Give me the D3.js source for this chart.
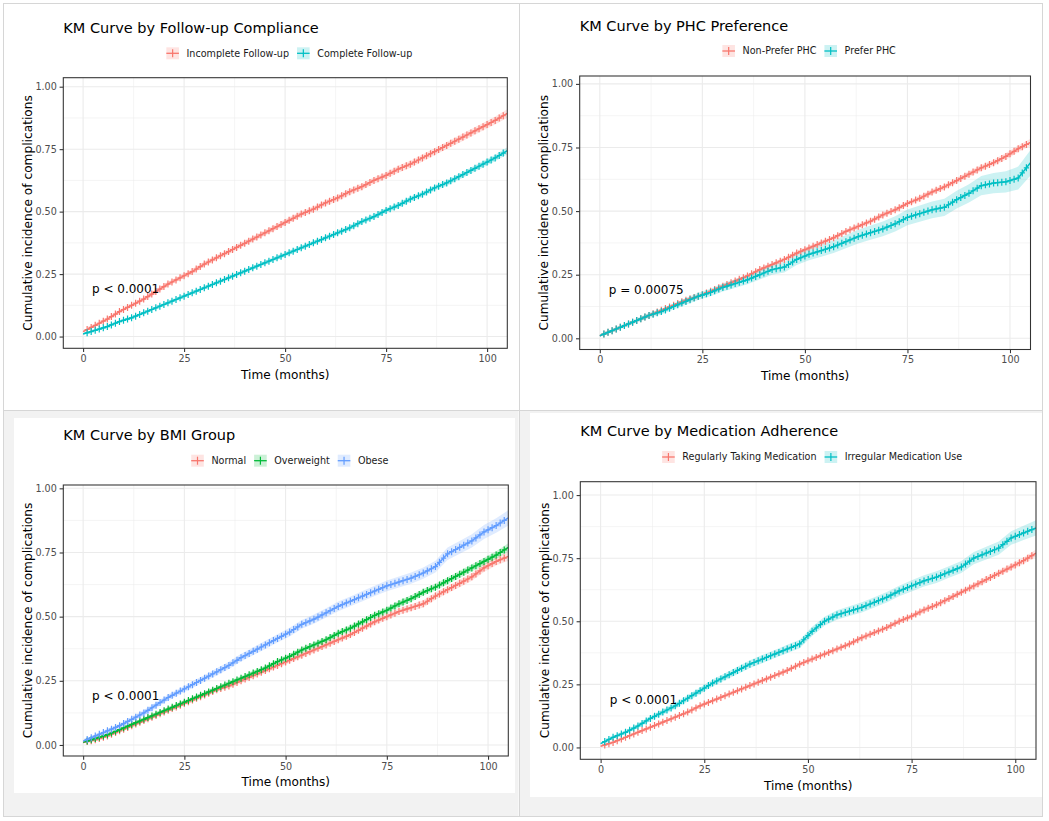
<!DOCTYPE html>
<html><head><meta charset="utf-8">
<script src="https://cdn.jsdelivr.net/npm/d3@7/dist/d3.min.js"></script>
<style>
body{margin:0;background:#fff;}
svg{display:block;font-family:"DejaVu Sans",sans-serif;}
</style>
</head><body>
<svg id="c" width="1049" height="821"></svg>
<script>
// ---------------- data ----------------
const months = [0,3,6,9,12,15,18,21,24,27,30,33,36,39,42,45,48,51,54,57,60,63,66,69,72,75,78,81,84,87,90,93,96,99,102,105];
const xTicks = [0,25,50,75,100];
const xMinorTicks = [12.5,37.5,62.5,87.5];
const yTicks = [0,0.25,0.5,0.75,1];
const yTickLabels = ["0.00","0.25","0.50","0.75","1.00"];
const yMinorTicks = [0.125,0.375,0.625,0.875];

const panelTitles = ["KM Curve by Follow-up Compliance","KM Curve by PHC Preference","KM Curve by BMI Group","KM Curve by Medication Adherence"];
const pValues = ["p < 0.0001","p = 0.00075","p < 0.0001","p < 0.0001"];

// panel 1
const followNames = ["Incomplete Follow-up","Complete Follow-up"];
const followIncomplete = [0.02,0.045,0.07,0.10,0.125,0.15,0.18,0.21,0.235,0.26,0.29,0.315,0.34,0.365,0.39,0.415,0.44,0.465,0.49,0.51,0.535,0.555,0.58,0.60,0.625,0.645,0.67,0.69,0.715,0.74,0.765,0.79,0.815,0.84,0.865,0.893];
const followComplete = [0.01,0.025,0.04,0.06,0.075,0.095,0.115,0.135,0.155,0.175,0.195,0.215,0.235,0.255,0.275,0.295,0.315,0.335,0.355,0.375,0.395,0.415,0.435,0.46,0.48,0.505,0.525,0.55,0.57,0.595,0.615,0.64,0.665,0.69,0.715,0.744];
const followIncompleteCI = [0.004,0.006,0.007,0.007,0.008,0.008,0.009,0.009,0.009,0.010,0.010,0.010,0.011,0.011,0.011,0.011,0.012,0.012,0.012,0.012,0.012,0.013,0.013,0.013,0.013,0.013,0.014,0.014,0.014,0.014,0.014,0.015,0.015,0.015,0.016,0.017];
const followCompleteCI = [0.003,0.004,0.005,0.005,0.006,0.006,0.006,0.007,0.007,0.007,0.007,0.008,0.008,0.008,0.008,0.008,0.009,0.009,0.009,0.009,0.009,0.010,0.010,0.010,0.010,0.010,0.011,0.011,0.011,0.011,0.012,0.012,0.012,0.013,0.013,0.014];

// panel 2
const phcNames = ["Non-Prefer PHC","Prefer PHC"];
const phcNonPrefer = [0.01,0.03,0.05,0.07,0.09,0.11,0.13,0.15,0.165,0.185,0.205,0.225,0.245,0.27,0.29,0.31,0.335,0.355,0.375,0.395,0.42,0.44,0.46,0.485,0.505,0.53,0.55,0.575,0.595,0.62,0.645,0.67,0.69,0.715,0.745,0.77];
const phcPrefer = [0.01,0.03,0.05,0.07,0.09,0.105,0.125,0.145,0.165,0.18,0.20,0.215,0.23,0.25,0.27,0.28,0.31,0.33,0.345,0.36,0.38,0.40,0.415,0.43,0.45,0.475,0.49,0.505,0.515,0.545,0.57,0.60,0.61,0.615,0.63,0.69];
const phcNonPreferCI = [0.003,0.004,0.005,0.005,0.006,0.006,0.006,0.007,0.007,0.007,0.007,0.008,0.008,0.008,0.008,0.008,0.009,0.009,0.009,0.009,0.009,0.010,0.010,0.010,0.010,0.010,0.011,0.011,0.011,0.011,0.012,0.012,0.012,0.013,0.013,0.014];
const phcPreferCI = [0.004,0.007,0.008,0.009,0.010,0.011,0.012,0.013,0.014,0.015,0.016,0.017,0.018,0.019,0.020,0.021,0.022,0.023,0.024,0.025,0.026,0.027,0.028,0.029,0.030,0.031,0.032,0.033,0.034,0.035,0.036,0.038,0.040,0.042,0.045,0.050];

// panel 3
const bmiNames = ["Normal","Overweight","Obese"];
const bmiNormal = [0.01,0.02,0.035,0.055,0.075,0.095,0.115,0.135,0.155,0.175,0.195,0.215,0.23,0.25,0.27,0.29,0.31,0.33,0.35,0.37,0.39,0.41,0.43,0.455,0.48,0.50,0.52,0.535,0.55,0.58,0.605,0.63,0.655,0.69,0.715,0.735];
const bmiOverweight = [0.01,0.025,0.04,0.06,0.08,0.10,0.12,0.14,0.16,0.18,0.20,0.22,0.24,0.26,0.28,0.30,0.325,0.345,0.37,0.39,0.41,0.435,0.455,0.48,0.505,0.525,0.55,0.57,0.595,0.615,0.64,0.665,0.69,0.715,0.74,0.77];
const bmiObese = [0.015,0.035,0.055,0.075,0.10,0.125,0.155,0.185,0.21,0.235,0.26,0.285,0.31,0.34,0.365,0.39,0.415,0.44,0.47,0.49,0.515,0.54,0.56,0.58,0.60,0.62,0.635,0.65,0.67,0.695,0.745,0.77,0.795,0.83,0.855,0.885];
const bmiNormalCI = [0.003,0.005,0.006,0.006,0.007,0.007,0.008,0.008,0.008,0.009,0.009,0.009,0.010,0.010,0.010,0.010,0.011,0.011,0.011,0.011,0.012,0.012,0.012,0.012,0.013,0.013,0.013,0.013,0.014,0.014,0.014,0.015,0.015,0.016,0.016,0.017];
const bmiOverweightCI = [0.003,0.005,0.006,0.006,0.007,0.007,0.007,0.008,0.008,0.008,0.009,0.009,0.009,0.009,0.010,0.010,0.010,0.010,0.011,0.011,0.011,0.011,0.012,0.012,0.012,0.012,0.013,0.013,0.013,0.013,0.014,0.014,0.014,0.015,0.015,0.016];
const bmiObeseCI = [0.004,0.007,0.008,0.009,0.010,0.011,0.011,0.012,0.012,0.013,0.013,0.014,0.014,0.015,0.015,0.016,0.016,0.017,0.017,0.018,0.018,0.019,0.019,0.020,0.020,0.021,0.021,0.022,0.022,0.023,0.024,0.025,0.026,0.027,0.028,0.030];

// panel 4
const medNames = ["Regularly Taking Medication","Irregular Medication Use"];
const medRegular = [0.005,0.02,0.04,0.06,0.08,0.10,0.12,0.14,0.165,0.185,0.205,0.225,0.245,0.265,0.285,0.305,0.33,0.35,0.37,0.39,0.41,0.435,0.455,0.475,0.50,0.52,0.545,0.565,0.59,0.615,0.64,0.665,0.69,0.715,0.74,0.77];
const medIrregular = [0.015,0.04,0.06,0.085,0.115,0.14,0.165,0.195,0.225,0.255,0.28,0.305,0.33,0.35,0.37,0.39,0.41,0.46,0.50,0.525,0.54,0.555,0.575,0.595,0.62,0.64,0.66,0.675,0.695,0.715,0.75,0.77,0.79,0.83,0.85,0.87];
const medRegularCI = [0.003,0.004,0.005,0.005,0.006,0.006,0.006,0.007,0.007,0.007,0.007,0.008,0.008,0.008,0.008,0.008,0.009,0.009,0.009,0.009,0.009,0.010,0.010,0.010,0.010,0.010,0.011,0.011,0.011,0.011,0.012,0.012,0.012,0.013,0.013,0.014];
const medIrregularCI = [0.004,0.007,0.008,0.009,0.010,0.011,0.012,0.013,0.013,0.014,0.014,0.015,0.015,0.016,0.016,0.017,0.017,0.018,0.018,0.019,0.019,0.020,0.020,0.021,0.021,0.022,0.022,0.023,0.023,0.024,0.024,0.025,0.026,0.027,0.028,0.030];

const RED="#F8766D", TEAL="#00BFC4", GREEN="#00BA38", BLUE="#619CFF";

// ---------------- layout (styles/positions) ----------------
const panels = [
  {title:panelTitles[0], p:pValues[0], names:followNames, vals:[followIncomplete,followComplete], ci:[followIncompleteCI,followCompleteCI], cols:[RED,TEAL],
   L:63.3, R:507.3, T:77.7, B:348.3, yDom:[-0.047,1.036], titleX:63.3, titleY:33, legY:53.3},
  {title:panelTitles[1], p:pValues[1], names:phcNames, vals:[phcNonPrefer,phcPrefer], ci:[phcNonPreferCI,phcPreferCI], cols:[RED,TEAL],
   L:579.7, R:1030.5, T:76, B:349.5, yDom:[-0.044,1.031], titleX:579.7, titleY:31, legY:51},
  {title:panelTitles[2], p:pValues[2], names:bmiNames, vals:[bmiNormal,bmiOverweight,bmiObese], ci:[bmiNormalCI,bmiOverweightCI,bmiObeseCI], cols:[RED,GREEN,BLUE],
   L:63.3, R:508.3, T:485, B:756, yDom:[-0.043,1.013], titleX:63.3, titleY:440, legY:460.7},
  {title:panelTitles[3], p:pValues[3], names:medNames, vals:[medRegular,medIrregular], ci:[medRegularCI,medIrregularCI], cols:[RED,TEAL],
   L:580.3, R:1036, T:481.7, B:759.3, yDom:[-0.047,1.053], titleX:580.3, titleY:436, legY:457}
];

const svg = d3.select("#c");

// background frame
svg.append("rect").attr("x",0).attr("y",0).attr("width",1049).attr("height",821).attr("fill","#ffffff");
svg.append("rect").attr("x",3.5).attr("y",410.5).attr("width",515).attr("height",406).attr("fill","#f2f2f2");
svg.append("rect").attr("x",519.5).attr("y",410.5).attr("width",523).attr("height",406).attr("fill","#f2f2f2");
svg.append("rect").attr("x",14).attr("y",418).attr("width",501).attr("height",375).attr("fill","#ffffff");
svg.append("rect").attr("x",530).attr("y",413).attr("width",512).attr("height",384).attr("fill","#ffffff");
svg.append("rect").attr("x",3.5).attr("y",3.5).attr("width",1039).attr("height",813).attr("fill","none").attr("stroke","#d6d6d6").attr("stroke-width",1);
svg.append("line").attr("x1",519.5).attr("x2",519.5).attr("y1",3.5).attr("y2",816.5).attr("stroke","#d6d6d6");
svg.append("line").attr("x1",3.5).attr("x2",1042.5).attr("y1",410.5).attr("y2",410.5).attr("stroke","#d6d6d6");

panels.forEach((pn,pi)=>{
  const g = svg.append("g");
  const x = d3.scaleLinear().domain([-4.9,105]).range([pn.L,pn.R]);
  const y = d3.scaleLinear().domain(pn.yDom).range([pn.B,pn.T]);

  // grid
  const grid = g.append("g");
  xMinorTicks.forEach(t=>grid.append("line").attr("x1",x(t)).attr("x2",x(t)).attr("y1",pn.T).attr("y2",pn.B).attr("stroke","#ebebeb").attr("stroke-width",0.55));
  yMinorTicks.forEach(t=>grid.append("line").attr("y1",y(t)).attr("y2",y(t)).attr("x1",pn.L).attr("x2",pn.R).attr("stroke","#ebebeb").attr("stroke-width",0.55));
  xTicks.forEach(t=>grid.append("line").attr("x1",x(t)).attr("x2",x(t)).attr("y1",pn.T).attr("y2",pn.B).attr("stroke","#ebebeb").attr("stroke-width",1.07));
  yTicks.forEach(t=>grid.append("line").attr("y1",y(t)).attr("y2",y(t)).attr("x1",pn.L).attr("x2",pn.R).attr("stroke","#ebebeb").attr("stroke-width",1.07));

  // clip
  const cid = "clip"+pi;
  svg.append("clipPath").attr("id",cid).append("rect").attr("x",pn.L).attr("y",pn.T).attr("width",pn.R-pn.L).attr("height",pn.B-pn.T);
  const plot = g.append("g").attr("clip-path",`url(#${cid})`);

  const area = d3.area().x(d=>x(d.t)).y0(d=>y(d.v-d.c)).y1(d=>y(d.v+d.c));
  const line = d3.line().x(d=>x(d.t)).y(d=>y(d.v));

  const series = pn.vals.map((vals,si)=>months.map((t,i)=>({t, v:vals[i], c:pn.ci[si][i]})));
  series.forEach((s,si)=>{
    plot.append("path").attr("d",area(s)).attr("fill",pn.cols[si]).attr("fill-opacity",0.2).attr("stroke","none");
  });
  series.forEach((s,si)=>{
    const path = plot.append("path").attr("d",line(s)).attr("fill","none").attr("stroke",pn.cols[si]).attr("stroke-width",1.5);
    // censor "+" symbols placed along the drawn curve, one per month
    const node = path.node(), len = node.getTotalLength();
    const marks = plot.append("g").attr("stroke",pn.cols[si]).attr("stroke-width",1.2);
    for(let m=1;m<=104;m++){
      const target = x(m);
      let lo=0, hi=len;
      for(let k=0;k<30;k++){ const mid=(lo+hi)/2; if(node.getPointAtLength(mid).x<target) lo=mid; else hi=mid; }
      const pt = node.getPointAtLength((lo+hi)/2);
      marks.append("line").attr("x1",pt.x).attr("x2",pt.x).attr("y1",pt.y-3.5).attr("y2",pt.y+3.5);
      marks.append("line").attr("x1",pt.x-2.6).attr("x2",pt.x+2.6).attr("y1",pt.y).attr("y2",pt.y);
    }
  });

  // panel border
  g.append("rect").attr("x",pn.L).attr("y",pn.T).attr("width",pn.R-pn.L).attr("height",pn.B-pn.T).attr("fill","none").attr("stroke","#333333").attr("stroke-width",1.07);

  // axes
  const xAxis = d3.axisBottom(x).tickValues(xTicks).tickSize(3.7).tickPadding(3).tickFormat(d3.format("d"));
  const xa = g.append("g").attr("transform",`translate(0,${pn.B})`).call(xAxis);
  xa.select(".domain").remove();
  xa.selectAll("line").attr("stroke","#333333").attr("stroke-width",1.07);
  xa.selectAll("text").attr("fill","#4d4d4d").attr("font-size",9.6).attr("font-family","DejaVu Sans");

  const yAxis = d3.axisLeft(y).tickValues(yTicks).tickSize(3.7).tickPadding(2.8).tickFormat((d,i)=>yTickLabels[i]);
  const ya = g.append("g").attr("transform",`translate(${pn.L},0)`).call(yAxis);
  ya.select(".domain").remove();
  ya.selectAll("line").attr("stroke","#333333").attr("stroke-width",1.07);
  ya.selectAll("text").attr("fill","#4d4d4d").attr("font-size",9.6).attr("font-family","DejaVu Sans");

  // axis titles
  g.append("text").attr("x",(pn.L+pn.R)/2).attr("y",pn.B+30.2).attr("text-anchor","middle").attr("font-size",12.1).attr("fill","#000").text("Time (months)");
  g.append("text").attr("transform",`translate(${pn.L-31.8},${(pn.T+pn.B)/2}) rotate(-90)`).attr("text-anchor","middle").attr("font-size",12.2).attr("fill","#000").text("Cumulative incidence of complications");

  // p value
  g.append("text").attr("x",x(2.2)).attr("y",y(0.19)).attr("dy","0.35em").attr("font-size",12).attr("fill","#000").text(pn.p);

  // title
  g.append("text").attr("x",pn.titleX).attr("y",pn.titleY).attr("font-size",14.5).attr("fill","#000").text(pn.title);

  // legend
  const leg = g.append("g");
  const keyW = 12.6, keyH = 12, gapKT = 7.6, gapItems = 8;
  const items = pn.names.map((nm,si)=>{
    const tx = leg.append("text").attr("font-size",9.6).attr("fill","#1a1a1a").attr("dy","0.35em").text(nm);
    return {tx, w: tx.node().getComputedTextLength(), col: pn.cols[si]};
  });
  const total = d3.sum(items,d=>keyW+gapKT+d.w) + gapItems*(items.length-1);
  let cx = (pn.L+pn.R)/2 + 4 - total/2;
  items.forEach(it=>{
    leg.append("rect").attr("x",cx).attr("y",pn.legY-keyH/2).attr("width",keyW).attr("height",keyH).attr("fill",it.col).attr("fill-opacity",0.2);
    leg.append("line").attr("x1",cx).attr("x2",cx+keyW).attr("y1",pn.legY).attr("y2",pn.legY).attr("stroke",it.col).attr("stroke-width",1.3);
    leg.append("line").attr("x1",cx+keyW/2).attr("x2",cx+keyW/2).attr("y1",pn.legY-4).attr("y2",pn.legY+4).attr("stroke",it.col).attr("stroke-width",1.2);
    it.tx.attr("x",cx+keyW+gapKT).attr("y",pn.legY);
    cx += keyW+gapKT+it.w+gapItems;
  });
});
</script>
</body></html>
